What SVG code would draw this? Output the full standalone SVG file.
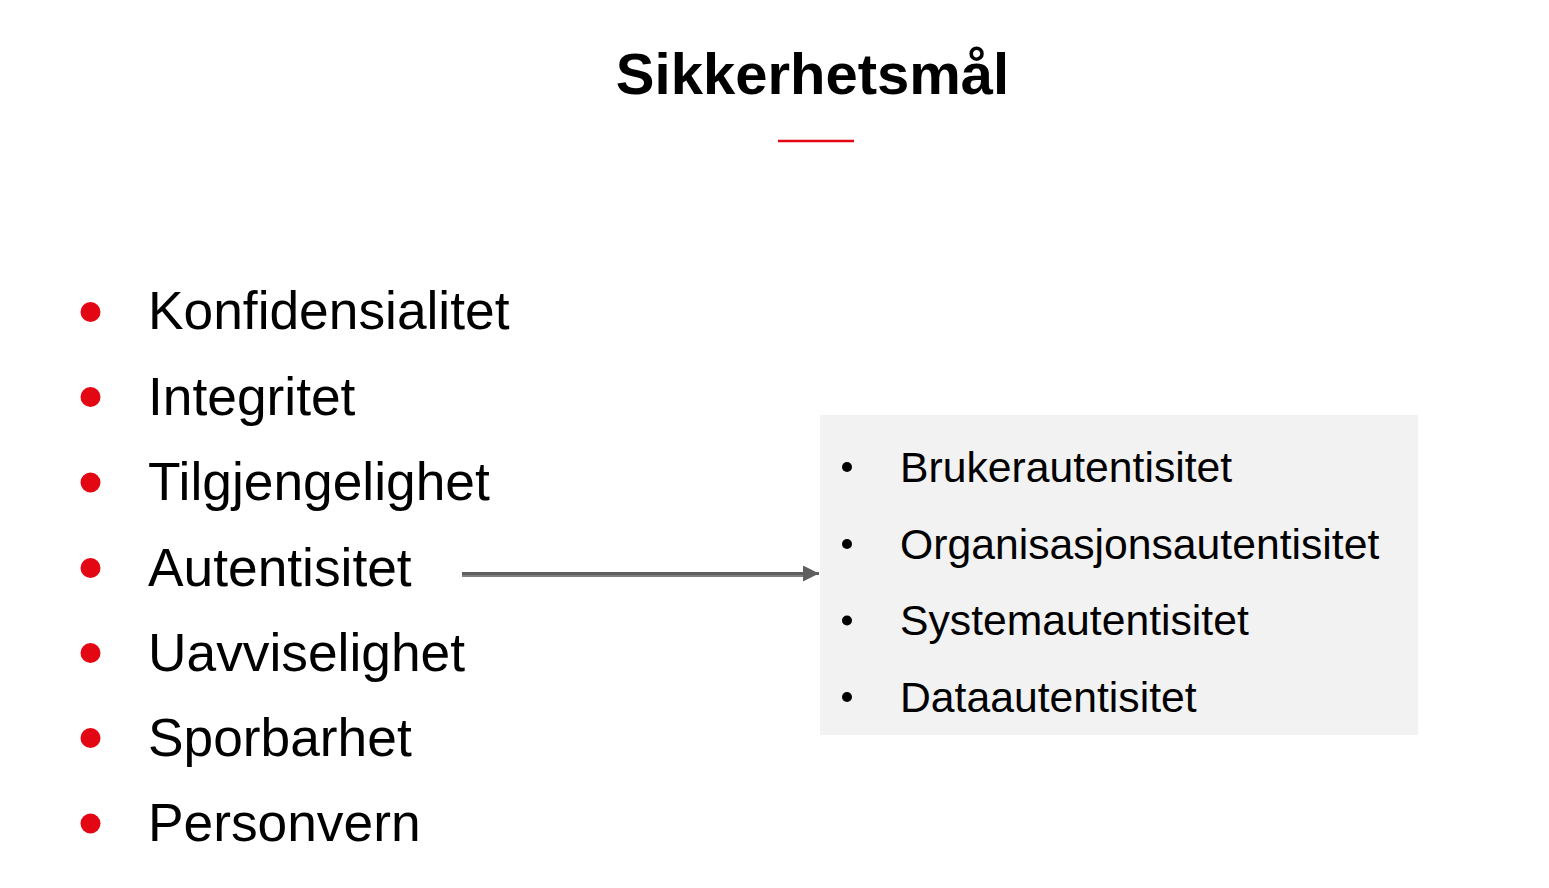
<svg xmlns="http://www.w3.org/2000/svg" width="1549" height="888" viewBox="0 0 1549 888">
<style>
.title{font-family:"Liberation Sans",Arial,sans-serif;font-weight:bold;font-size:58px;fill:#000}
.main{font-family:"Liberation Sans",Arial,sans-serif;font-size:53.3px;fill:#000}
.sub{font-family:"Liberation Sans",Arial,sans-serif;font-size:42.7px;fill:#000}
.rdot{fill:#e30613}
.bdot{fill:#000}
</style>
<defs>
<marker id="arr" viewBox="0 0 16 16" refX="16" refY="8" markerWidth="16" markerHeight="16" markerUnits="userSpaceOnUse" orient="auto">
<path d="M0,0 L16,8 L0,16 Z" fill="#5f5f5f"/>
</marker>
</defs>
<rect width="1549" height="888" fill="#fff"/>
<g id="title">
<text class="title" x="812.5" y="94" text-anchor="middle">Sikkerhetsmål</text>
<line x1="778" y1="141" x2="854" y2="141" stroke="#e30613" stroke-width="2.5"/>
</g>
<g id="main-list">
<g id="item-konfidensialitet"><circle class="rdot" cx="90.5" cy="312" r="10"/><text class="main" x="148" y="329">Konfidensialitet</text></g>
<g id="item-integritet"><circle class="rdot" cx="90.5" cy="397" r="10"/><text class="main" x="148" y="414.5">Integritet</text></g>
<g id="item-tilgjengelighet"><circle class="rdot" cx="90.5" cy="482.5" r="10"/><text class="main" x="148" y="500">Tilgjengelighet</text></g>
<g id="item-autentisitet"><circle class="rdot" cx="90.5" cy="568" r="10"/><text class="main" x="148" y="585.5">Autentisitet</text></g>
<g id="item-uavviselighet"><circle class="rdot" cx="90.5" cy="653" r="10"/><text class="main" x="148" y="671">Uavviselighet</text></g>
<g id="item-sporbarhet"><circle class="rdot" cx="90.5" cy="738" r="10"/><text class="main" x="148" y="756">Sporbarhet</text></g>
<g id="item-personvern"><circle class="rdot" cx="90.5" cy="823.5" r="10"/><text class="main" x="148" y="841">Personvern</text></g>
</g>
<g id="auth-box">
<rect x="820" y="415" width="598" height="320" fill="#f2f2f2"/>
<g id="sub-bruker"><circle class="bdot" cx="847" cy="467" r="5"/><text class="sub" x="900" y="482">Brukerautentisitet</text></g>
<g id="sub-org"><circle class="bdot" cx="847" cy="544" r="5"/><text class="sub" x="900" y="558.5">Organisasjonsautentisitet</text></g>
<g id="sub-system"><circle class="bdot" cx="847" cy="620.5" r="5"/><text class="sub" x="900" y="635">Systemautentisitet</text></g>
<g id="sub-data"><circle class="bdot" cx="847" cy="697" r="5"/><text class="sub" x="900" y="711.5">Dataautentisitet</text></g>
</g>
<g id="connectors">
<line x1="462" y1="576" x2="806" y2="576" stroke="#808080" stroke-width="2"/>
<line x1="462" y1="573.5" x2="819" y2="573.5" stroke="#5f5f5f" stroke-width="3" marker-end="url(#arr)"/>
</g>
</svg>
